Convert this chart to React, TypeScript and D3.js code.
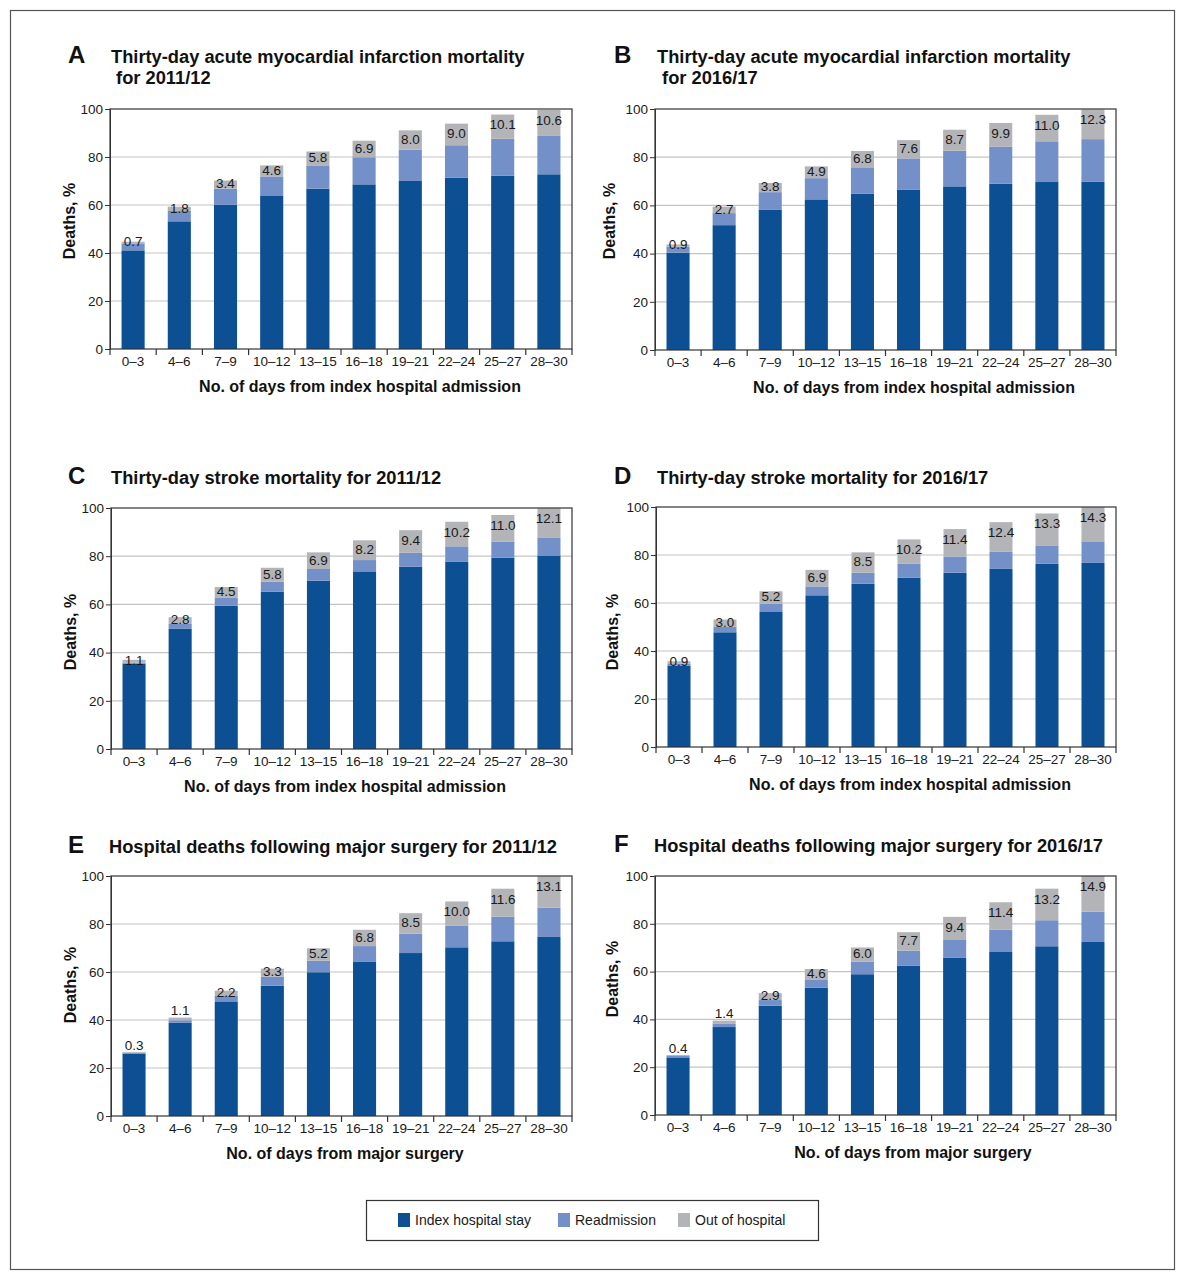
import { useRef, useEffect } from "react";
import * as d3 from "d3";

// Day bands on the x axis
const CATEGORIES = ["0–3", "4–6", "7–9", "10–12", "13–15", "16–18", "19–21", "22–24", "25–27", "28–30"];
const Y_TICKS = [0, 20, 40, 60, 80, 100];

const SERIES = [
  { key: "index", label: "Index hospital stay", color: "#0c4f93" },
  { key: "readmission", label: "Readmission", color: "#7391c8" },
  { key: "out", label: "Out of hospital", color: "#b3b4b8" },
];

// A: AMI 2011/12
const amiIndex1112 = [41.1, 53.2, 60.1, 64.0, 66.8, 68.6, 70.0, 71.4, 72.2, 72.8];
const amiReadm1112 = [2.9, 4.3, 6.7, 7.9, 9.7, 11.3, 13.1, 13.5, 15.4, 16.2];
const amiOut1112 = [0.7, 1.8, 3.4, 4.6, 5.8, 6.9, 8.0, 9.0, 10.1, 10.6];

// B: AMI 2016/17
const amiIndex1617 = [40.4, 51.8, 58.3, 62.5, 64.8, 66.6, 67.9, 69.0, 69.7, 69.9];
const amiReadm1617 = [2.5, 5.0, 7.2, 8.8, 11.0, 12.9, 14.8, 15.3, 16.9, 17.6];
const amiOut1617 = [0.9, 2.7, 3.8, 4.9, 6.8, 7.6, 8.7, 9.9, 11.0, 12.3];

// C: stroke 2011/12
const strokeIndex1112 = [35.4, 50.0, 59.4, 65.2, 69.8, 73.7, 75.6, 77.8, 79.4, 80.3];
const strokeReadm1112 = [0.5, 1.9, 3.3, 4.2, 4.9, 4.7, 5.8, 6.3, 6.7, 7.5];
const strokeOut1112 = [1.1, 2.8, 4.5, 5.8, 6.9, 8.2, 9.4, 10.2, 11.0, 12.1];

// D: stroke 2016/17
const strokeIndex1617 = [33.8, 47.8, 56.5, 63.2, 68.0, 70.5, 72.6, 74.2, 76.3, 76.7];
const strokeReadm1617 = [1.0, 2.3, 3.2, 3.7, 4.6, 5.8, 6.8, 7.1, 7.7, 9.0];
const strokeOut1617 = [0.9, 3.0, 5.2, 6.9, 8.5, 10.2, 11.4, 12.4, 13.3, 14.3];

// E: surgery 2011/12
const surgIndex1112 = [25.9, 38.8, 47.5, 54.3, 59.9, 64.2, 67.9, 70.3, 72.8, 74.6];
const surgReadm1112 = [0.5, 1.1, 2.5, 3.8, 4.8, 6.6, 8.1, 9.1, 10.3, 12.2];
const surgOut1112 = [0.3, 1.1, 2.2, 3.3, 5.2, 6.8, 8.5, 10.0, 11.6, 13.1];

// F: surgery 2016/17
const surgIndex1617 = [24.1, 36.8, 45.7, 53.2, 58.9, 62.4, 65.9, 68.2, 70.6, 72.4];
const surgReadm1617 = [0.6, 1.3, 2.4, 3.3, 5.2, 6.4, 7.6, 9.4, 10.9, 12.7];
const surgOut1617 = [0.4, 1.4, 2.9, 4.6, 6.0, 7.7, 9.4, 11.4, 13.2, 14.9];

const ADMISSION_LABEL = "No. of days from index hospital admission";
const SURGERY_LABEL = "No. of days from major surgery";

const PANELS = [
  {
    letter: "A", title: ["Thirty-day acute myocardial infarction mortality", " for 2011/12"],
    index: amiIndex1112, readmission: amiReadm1112, out: amiOut1112, xLabel: ADMISSION_LABEL,
    box: { left: 110, top: 109, right: 572, bottom: 349 }, letterX: 68, titleX: 111, titleY: 63,
    xLabelX: 360, yLabelX: 75, yLabelY: 221, liftSmall: false,
  },
  {
    letter: "B", title: ["Thirty-day acute myocardial infarction mortality", " for 2016/17"],
    index: amiIndex1617, readmission: amiReadm1617, out: amiOut1617, xLabel: ADMISSION_LABEL,
    box: { left: 655, top: 109, right: 1116, bottom: 350 }, letterX: 614, titleX: 657, titleY: 63,
    xLabelX: 914, yLabelX: 615, yLabelY: 221, liftSmall: false,
  },
  {
    letter: "C", title: ["Thirty-day stroke mortality for 2011/12"],
    index: strokeIndex1112, readmission: strokeReadm1112, out: strokeOut1112, xLabel: ADMISSION_LABEL,
    box: { left: 111, top: 508, right: 572, bottom: 749 }, letterX: 68, titleX: 111, titleY: 484,
    xLabelX: 345, yLabelX: 76, yLabelY: 632, liftSmall: false,
  },
  {
    letter: "D", title: ["Thirty-day stroke mortality for 2016/17"],
    index: strokeIndex1617, readmission: strokeReadm1617, out: strokeOut1617, xLabel: ADMISSION_LABEL,
    box: { left: 656, top: 507, right: 1116, bottom: 747 }, letterX: 614, titleX: 657, titleY: 484,
    xLabelX: 910, yLabelX: 618, yLabelY: 632, liftSmall: false,
  },
  {
    letter: "E", title: ["Hospital deaths following major surgery for 2011/12"],
    index: surgIndex1112, readmission: surgReadm1112, out: surgOut1112, xLabel: SURGERY_LABEL,
    box: { left: 111, top: 876, right: 572, bottom: 1116 }, letterX: 68, titleX: 109, titleY: 853,
    xLabelX: 345, yLabelX: 76, yLabelY: 985, liftSmall: true,
  },
  {
    letter: "F", title: ["Hospital deaths following major surgery for 2016/17"],
    index: surgIndex1617, readmission: surgReadm1617, out: surgOut1617, xLabel: SURGERY_LABEL,
    box: { left: 655, top: 876, right: 1116, bottom: 1115 }, letterX: 614, titleX: 654, titleY: 852,
    xLabelX: 913, yLabelX: 618, yLabelY: 979, liftSmall: true,
  },
];

const FONT = "'Liberation Sans', Arial, Helvetica, sans-serif";
const TEXT = "#1a1a1a";

export default function App() {
  const svgRef = useRef<SVGSVGElement>(null);

  useEffect(() => {
    if (!svgRef.current) return;
    const svg = d3.select(svgRef.current);
    svg.selectAll("*").remove();

    // Outer frame
    svg.append("rect")
      .attr("x", 10.5).attr("y", 10.5)
      .attr("width", 1164).attr("height", 1259)
      .attr("fill", "#fff").attr("stroke", "#555").attr("stroke-width", 1.2);

    for (const p of PANELS) {
      const { left, top, right, bottom } = p.box;
      const g = svg.append("g").attr("font-family", FONT);

      const x = d3.scaleBand<string>()
        .domain(CATEGORIES)
        .range([left, right])
        .paddingInner(0.5)
        .paddingOuter(0.25);
      const y = d3.scaleLinear().domain([0, 100]).range([bottom, top]);

      const rows = CATEGORIES.map((c, i) => ({
        cat: c, index: p.index[i], readmission: p.readmission[i], out: p.out[i],
      }));
      const stack = d3.stack<any>().keys(SERIES.map((s) => s.key));
      const series = stack(rows);

      // Title
      g.append("text")
        .attr("x", p.letterX).attr("y", p.titleY)
        .attr("font-size", 24).attr("font-weight", "bold").attr("fill", "#111")
        .text(p.letter);
      p.title.forEach((line, i) => {
        g.append("text")
          .attr("x", p.titleX).attr("y", p.titleY + i * 21)
          .attr("font-size", 18.3).attr("font-weight", "bold").attr("fill", "#111")
          .style("white-space", "pre")
          .text(line);
      });

      // Grid
      g.append("g")
        .selectAll("line")
        .data(Y_TICKS.filter((t) => t > 0 && t < 100))
        .join("line")
        .attr("x1", left).attr("x2", right)
        .attr("y1", (d) => y(d)).attr("y2", (d) => y(d))
        .attr("stroke", "#c4c4c6").attr("stroke-width", 1.2);

      // Bars
      g.append("g")
        .selectAll("g")
        .data(series)
        .join("g")
        .attr("fill", (s) => SERIES.find((k) => k.key === s.key)!.color)
        .selectAll("rect")
        .data((s) => s)
        .join("rect")
        .attr("x", (d) => x(d.data.cat)!)
        .attr("width", x.bandwidth())
        .attr("y", (d) => y(d[1]))
        .attr("height", (d) => y(d[0]) - y(d[1]));

      // Out-of-hospital value labels
      const labelY = (d: d3.SeriesPoint<any>) => {
        const segTop = y(d[1]);
        const segH = y(d[0]) - y(d[1]);
        if (p.liftSmall && segH < 4) return segTop - 7;
        return Math.min(segTop + segH / 2 - 1, segTop + 10);
      };
      g.append("g")
        .selectAll("text")
        .data(series[2])
        .join("text")
        .attr("x", (d) => x(d.data.cat)! + x.bandwidth() / 2)
        .attr("y", labelY)
        .attr("dy", "0.36em")
        .attr("text-anchor", "middle")
        .attr("font-size", 13.5).attr("fill", TEXT)
        .text((d) => d.data.out.toFixed(1));

      // Plot frame
      g.append("rect")
        .attr("x", left).attr("y", top)
        .attr("width", right - left).attr("height", bottom - top)
        .attr("fill", "none").attr("stroke", "#333").attr("stroke-width", 1.2);

      // Y axis
      const yAxis = g.append("g")
        .attr("transform", `translate(${left},0)`)
        .call(d3.axisLeft(y).tickValues(Y_TICKS).tickSize(5).tickPadding(2));
      yAxis.select(".domain").attr("stroke", "#333");
      yAxis.selectAll(".tick line").attr("stroke", "#333");
      yAxis.selectAll(".tick text")
        .attr("font-size", 13.5).attr("font-family", FONT).attr("fill", TEXT);

      // X axis ticks at band boundaries
      const step = x.step();
      const bounds = CATEGORIES.map((c) => x(c)! - step * 0.25).concat([right]);
      g.append("g")
        .selectAll("line")
        .data(bounds)
        .join("line")
        .attr("x1", (d) => d).attr("x2", (d) => d)
        .attr("y1", bottom).attr("y2", bottom + 6)
        .attr("stroke", "#333").attr("stroke-width", 1.2);
      g.append("g")
        .selectAll("text")
        .data(CATEGORIES)
        .join("text")
        .attr("x", (d) => x(d)! + x.bandwidth() / 2)
        .attr("y", bottom + 17)
        .attr("text-anchor", "middle")
        .attr("font-size", 13.5).attr("fill", TEXT)
        .text((d) => d);

      // Axis titles
      g.append("text")
        .attr("x", p.xLabelX).attr("y", bottom + 43)
        .attr("text-anchor", "middle")
        .attr("font-size", 16).attr("font-weight", "bold").attr("fill", "#111")
        .text(p.xLabel);
      g.append("text")
        .attr("transform", `translate(${p.yLabelX},${p.yLabelY}) rotate(-90)`)
        .attr("text-anchor", "middle")
        .attr("font-size", 16).attr("font-weight", "bold").attr("fill", "#111")
        .text("Deaths, %");
    }

    // Legend
    const legend = svg.append("g").attr("font-family", FONT);
    legend.append("rect")
      .attr("x", 366.5).attr("y", 1200.5)
      .attr("width", 452).attr("height", 40)
      .attr("fill", "#fff").attr("stroke", "#333").attr("stroke-width", 1.2);
    const legendX = [398, 558, 678];
    SERIES.forEach((s, i) => {
      legend.append("rect")
        .attr("x", legendX[i]).attr("y", 1213)
        .attr("width", 12).attr("height", 14)
        .attr("fill", s.color);
      legend.append("text")
        .attr("x", legendX[i] + 17).attr("y", 1225)
        .attr("font-size", 14).attr("fill", TEXT)
        .text(s.label);
    });
  }, []);

  return (
    <div style={{ position: "absolute", left: 0, top: 0 }}>
      <svg ref={svgRef} width={1185} height={1280} style={{ display: "block", background: "#fff" }} />
    </div>
  );
}
